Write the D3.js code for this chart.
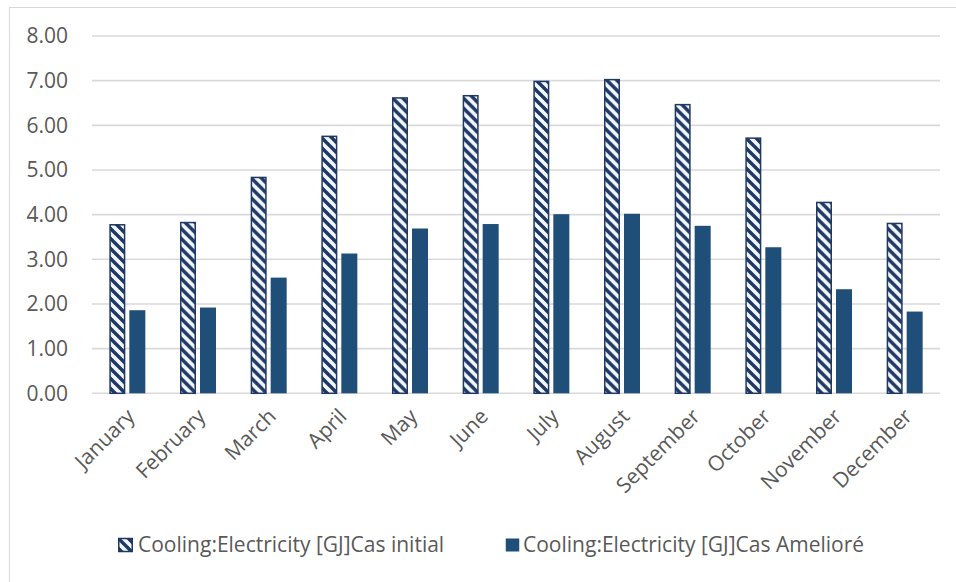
<!DOCTYPE html>
<html>
<head>
<meta charset="utf-8">
<script src="https://cdn.jsdelivr.net/npm/d3@7"></script>
<style>
  body { margin: 0; background: #fff; }
  svg { display: block; font-family: "Open Sans", sans-serif; }
</style>
</head>
<body>
<div id="chart"></div>
<script>
// data
const months = ["January", "February", "March", "April", "May", "June", "July", "August", "September", "October", "November", "December"]
const casInitial = [3.79, 3.84, 4.85, 5.77, 6.63, 6.68, 7.00, 7.04, 6.48, 5.73, 4.29, 3.82]
const casAmeliore = [1.86, 1.92, 2.59, 3.13, 3.69, 3.79, 4.01, 4.02, 3.75, 3.27, 2.33, 1.83]
const seriesNames = ["Cooling:Electricity [GJ]Cas initial", "Cooling:Electricity [GJ]Cas Amelioré"]
const yTicks = [0, 1, 2, 3, 4, 5, 6, 7, 8]

const width = 956
const height = 582
const navy = "#203864"
const blue = "#1F4E79"
const textColor = "#595959"

const svg = d3.select("#chart").append("svg")
    .attr("width", width)
    .attr("height", height)

// wide downward diagonal pattern
const defs = svg.append("defs")
const pat = defs.append("pattern")
    .attr("id", "wdiag")
    .attr("patternUnits", "userSpaceOnUse")
    .attr("width", 10)
    .attr("height", 10)
pat.append("rect").attr("width", 10).attr("height", 10).attr("fill", "#F2F7FC")
// three "\" strokes so the stripes join across tiles
pat.selectAll("line")
    .data([-10, 0, 10])
    .join("line")
    .attr("x1", d => d - 1)
    .attr("y1", -1)
    .attr("x2", d => d + 11)
    .attr("y2", 11)
    .attr("stroke", navy)
    .attr("stroke-width", 3.4)

// chart area border (left + top visible)
svg.append("rect")
    .attr("x", 9.5).attr("y", 7.5)
    .attr("width", width + 20).attr("height", height + 20)
    .attr("fill", "none")
    .attr("stroke", "#D9D9D9")
    .attr("stroke-width", 1)

const x = d3.scaleBand()
    .domain(months)
    .range([92, 940])

const groupW = 36
const x1 = d3.scaleBand()
    .domain([0, 1])
    .range([x.bandwidth() / 2 - groupW / 2, x.bandwidth() / 2 + groupW / 2])
    .paddingInner(0.2)

const y = d3.scaleLinear()
    .domain([0, 8])
    .range([393.3, 36])

// gridlines
svg.append("g")
    .selectAll("line")
    .data(yTicks)
    .join("line")
    .attr("x1", 92)
    .attr("x2", 940)
    .attr("y1", d => y(d))
    .attr("y2", d => y(d))
    .attr("stroke", "#D9D9D9")
    .attr("stroke-width", 1.6)

// y labels
svg.append("g")
    .selectAll("text")
    .data(yTicks)
    .join("text")
    .attr("x", 68)
    .attr("y", d => y(d))
    .attr("dy", "0.35em")
    .attr("text-anchor", "end")
    .attr("fill", textColor)
    .style("font-size", "21px")
    .text(d3.format(".2f"))

// bars
const rows = months.map((m, i) => ({month: m, values: [casInitial[i], casAmeliore[i]]}))

const groups = svg.append("g")
    .selectAll("g")
    .data(rows)
    .join("g")
    .attr("transform", d => `translate(${x(d.month)},0)`)

groups.append("rect")
    .attr("x", x1(0) + 0.75)
    .attr("width", x1.bandwidth() - 1.5)
    .attr("y", d => y(d.values[0]) + 0.75)
    .attr("height", d => y(0) - y(d.values[0]) - 0.75)
    .attr("fill", "url(#wdiag)")
    .attr("stroke", navy)
    .attr("stroke-width", 1.5)

groups.append("rect")
    .attr("x", x1(1))
    .attr("width", x1.bandwidth())
    .attr("y", d => y(d.values[1]))
    .attr("height", d => y(0) - y(d.values[1]))
    .attr("fill", blue)

// month labels, rotated
svg.append("g")
    .selectAll("text")
    .data(months)
    .join("text")
    .attr("transform", d => `translate(${x(d) + x.bandwidth() / 2 - 2},${407}) rotate(-45)`)
    .attr("dy", "0.72em")
    .attr("text-anchor", "end")
    .attr("fill", textColor)
    .style("font-size", "21px")
    .text(d => d)

// legend
const legend = svg.append("g")
const legendItems = [
    {name: seriesNames[0], sx: 118, tx: 138, fill: "url(#wdiag)", stroke: navy},
    {name: seriesNames[1], sx: 505, tx: 523, fill: blue, stroke: "none"}
]
legend.selectAll("rect")
    .data(legendItems)
    .join("rect")
    .attr("x", d => d.sx + 0.75)
    .attr("y", 538.5)
    .attr("width", 13.5)
    .attr("height", 13)
    .attr("fill", d => d.fill)
    .attr("stroke", d => d.stroke)
    .attr("stroke-width", 1.5)
legend.selectAll("text")
    .data(legendItems)
    .join("text")
    .attr("x", d => d.tx)
    .attr("y", 552)
    .attr("fill", textColor)
    .style("font-size", "21px")
    .text(d => d.name)
</script>
</body>
</html>
